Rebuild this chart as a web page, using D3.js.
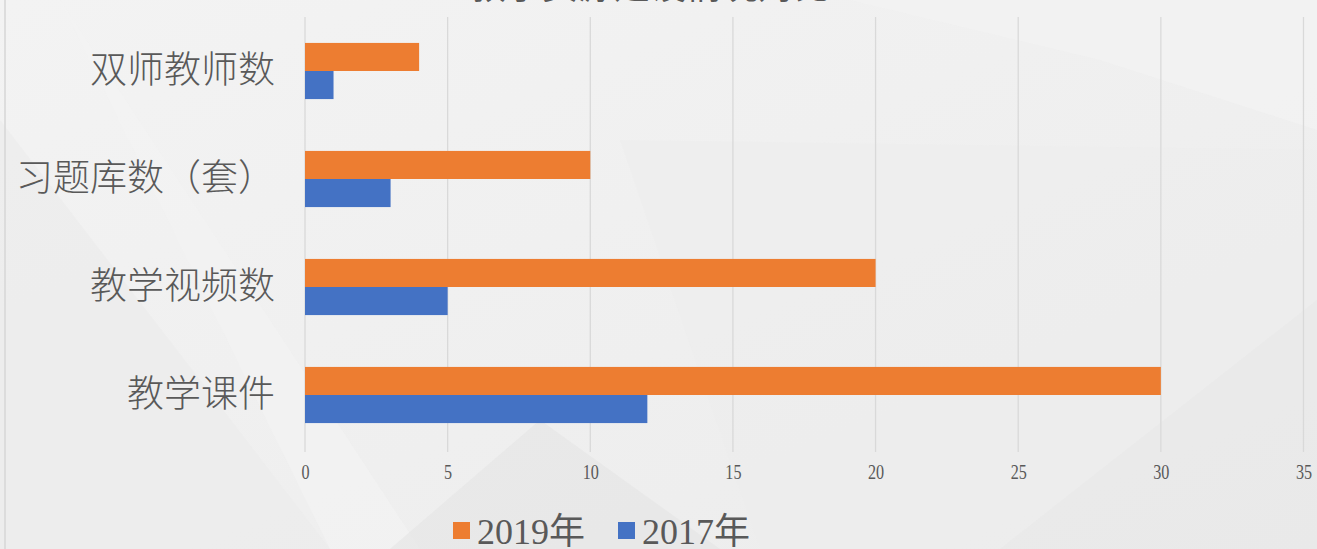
<!DOCTYPE html>
<html lang="zh">
<head>
<meta charset="utf-8" />
<title>教学资源建设对比</title>
<style>
  html, body { margin: 0; padding: 0; background: #efefef; overflow: hidden; }
  svg { display: block; }
</style>
</head>
<body>
<div id="chart"></div>
<script src="https://d3js.org/d3.v7.min.js"></script>
<script>
// data
const categories = ["双师教师数", "习题库数（套）", "教学视频数", "教学课件"];
const series = ["2019年", "2017年"];
const values2019 = [4, 10, 20, 30];
const values2017 = [1, 3, 5, 12];
const xTicks = [0, 5, 10, 15, 20, 25, 30, 35];

const W = 1317, H = 549;
const colors = {"2019年": "#ED7D31", "2017年": "#4472C4"};
const textColor = "#595959";

const svg = d3.select("#chart").append("svg")
    .attr("width", W)
    .attr("height", H);

// background
const defs = svg.append("defs");
const g1 = defs.append("linearGradient").attr("id", "bgGrad")
    .attr("x1", 0).attr("y1", 0).attr("x2", 1).attr("y2", 1);
g1.append("stop").attr("offset", "0%").attr("stop-color", "#f3f3f3");
g1.append("stop").attr("offset", "100%").attr("stop-color", "#ececec");
svg.append("rect").attr("width", W).attr("height", H).attr("fill", "url(#bgGrad)");

// soft geometric shapes behind the chart
const shapes = [
    {pts: [[0, 120], [330, 549], [0, 549]], fill: "#ebebeb"},
    {pts: [[60, 0], [420, 549], [330, 549]], fill: "#f4f4f4"},
    {pts: [[390, 549], [540, 420], [720, 549]], fill: "#e4e4e4"},
    {pts: [[620, 140], [1317, 150], [1317, 549], [760, 549]], fill: "#ededed"},
    {pts: [[850, 0], [1317, 0], [1317, 130], [1100, 60]], fill: "#f4f4f4"},
    {pts: [[1000, 549], [1317, 300], [1317, 549]], fill: "#e8e8e8"}
];
svg.append("g").selectAll("path").data(shapes).join("path")
    .attr("d", d => "M" + d.pts.map(p => p.join(",")).join("L") + "Z")
    .attr("fill", d => d.fill)
    .attr("opacity", 0.6);

svg.append("line")
    .attr("x1", 5).attr("x2", 5).attr("y1", 0).attr("y2", H)
    .attr("stroke", "#d6d6d6").attr("stroke-width", 1.5);

// title (mostly cut off at the top)
svg.append("text")
    .attr("x", 650).attr("y", -1)
    .attr("text-anchor", "middle")
    .attr("font-family", "'Noto Sans CJK SC', sans-serif")
    .attr("font-size", 36)
    .attr("fill", textColor)
    .text("教学资源建设情况对比");

const margin = {top: 17, right: 13, bottom: 100, left: 305};
const innerW = W - margin.left - margin.right;
const innerH = H - margin.top - margin.bottom;

const x = d3.scaleLinear().domain([0, 35]).range([0, innerW - 0.5]);
const y = d3.scaleBand().domain(categories).range([0, innerH]).paddingInner(0.48).paddingOuter(0.24);
const ySub = d3.scaleBand().domain(series).range([0, y.bandwidth()]);

const plot = svg.append("g").attr("transform", `translate(${margin.left},${margin.top})`);

// gridlines
plot.append("g").selectAll("line").data(xTicks).join("line")
    .attr("x1", d => x(d)).attr("x2", d => x(d))
    .attr("y1", 0).attr("y2", innerH + 3)
    .attr("stroke", "#d9d9d9")
    .attr("stroke-width", 1.3);

// x axis labels
const xAxis = d3.axisBottom(x).tickValues(xTicks).tickSize(0).tickPadding(14);
const xg = plot.append("g").attr("transform", `translate(0,${innerH})`).call(xAxis);
xg.select(".domain").remove();
xg.selectAll("text")
    .attr("font-family", "'Liberation Serif', 'DejaVu Serif', serif")
    .attr("font-size", 19)
    .attr("fill", textColor)
    .attr("x", 0)
    .attr("transform", "scale(0.85,1.15)")
    .attr("dy", "0.62em");

// y labels
const yAxis = d3.axisLeft(y).tickSize(0).tickPadding(30);
const yg = plot.append("g").call(yAxis);
yg.select(".domain").remove();
yg.selectAll("text")
    .attr("font-family", "'Noto Sans CJK SC', sans-serif")
    .attr("font-weight", 300)
    .attr("font-size", 37)
    .attr("fill", textColor);

// bars
const rows = categories.map((c, i) => ({cat: c, vals: [
    {s: "2019年", v: values2019[i]},
    {s: "2017年", v: values2017[i]}
]}));

plot.append("g").selectAll("g").data(rows).join("g")
    .attr("transform", d => `translate(0,${y(d.cat)})`)
  .selectAll("rect").data(d => d.vals).join("rect")
    .attr("x", 0)
    .attr("y", d => ySub(d.s))
    .attr("width", d => x(d.v))
    .attr("height", ySub.bandwidth())
    .attr("fill", d => colors[d.s]);

// legend
const legend = svg.append("g").attr("transform", "translate(453,531)");
const legendX = [0, 165];
series.forEach((s, i) => {
    const lg = legend.append("g").attr("transform", `translate(${legendX[i]},0)`);
    lg.append("rect").attr("x", 0).attr("y", -9).attr("width", 17).attr("height", 17)
        .attr("fill", colors[s]);
    lg.append("text").attr("x", 24).attr("y", 0).attr("dy", "0.36em")
        .attr("font-family", "'Liberation Serif', 'Noto Sans CJK SC', serif")
        .attr("font-size", 36)
        .attr("fill", textColor)
        .text(s);
});
</script>
</body>
</html>
